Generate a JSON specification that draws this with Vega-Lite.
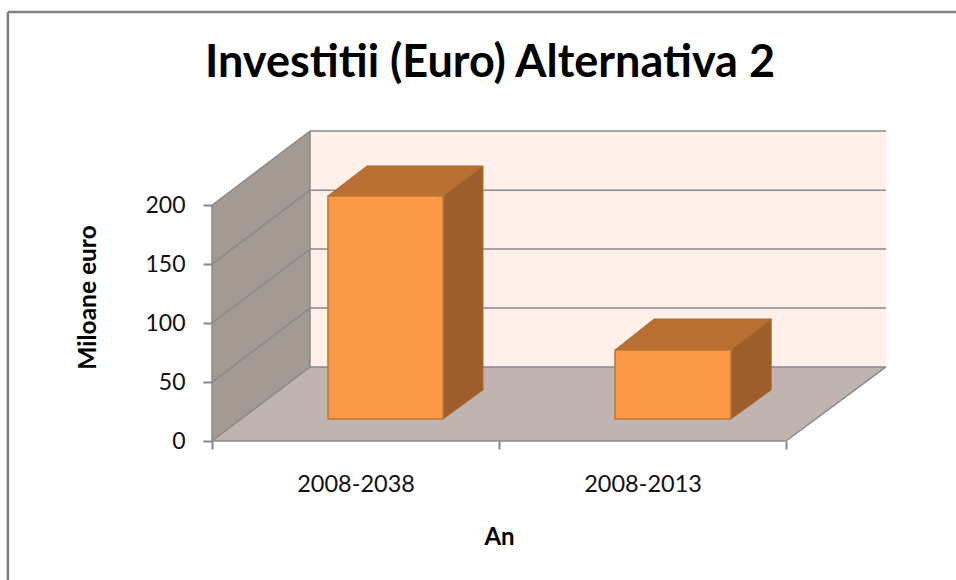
{
"$schema":"https://vega.github.io/schema/vega-lite/v6.json",
"width":674,"height":310,
"autosize":{"type":"none"},
"padding":{"left":212,"top":131,"right":70,"bottom":139},
"background":"white",
"config":{"view":{"stroke":null}},
"title":{"text":"Investitii (Euro) Alternativa 2","anchor":"middle","frame":"group","dx":-59,"offset":-111,"baseline":"alphabetic","font":"Lato","fontSize":45,"fontWeight":"bold","color":"#000000"},
"datasets":{
"backWall":[{"part":"back","x":0.3415,"x2":2.348,"y":62.8,"y2":263}],
"leftWall":[{"part":"wall","x":0,"y":0,"y2":200},{"part":"wall","x":0.3415,"y":62.8,"y2":263}],
"floor":[{"part":"floor","y":0,"x":0,"x2":2},{"part":"floor","y":62.8,"x":0.3415,"x2":2.348}],
"lines":[
{"x":0,"y":50,"x2":0.3415,"y2":112.8},{"x":0,"y":100,"x2":0.3415,"y2":162.8},{"x":0,"y":150,"x2":0.3415,"y2":212.8},{"x":0,"y":200,"x2":0.3415,"y2":263},
{"x":0.3415,"y":112.8,"x2":2.348,"y2":112.8},{"x":0.3415,"y":162.8,"x2":2.348,"y2":162.8},{"x":0.3415,"y":212.8,"x2":2.348,"y2":212.8},{"x":0.3415,"y":263,"x2":2.348,"y2":263},
{"x":0.3415,"y":62.8,"x2":2.348,"y2":62.8},{"x":0,"y":0,"x2":0.3415,"y2":62.8},{"x":2,"y":0,"x2":2.348,"y2":62.8},
{"x":0,"y":0,"x2":2,"y2":0},{"x":0,"y":0,"x2":0,"y2":200},{"x":0.3415,"y":62.8,"x2":0.3415,"y2":263}
],
"sides":[
{"category":"2008-2038","part":"side","x":0.805,"y":18.7,"y2":207.9},{"category":"2008-2038","part":"side","x":0.944,"y":43.3,"y2":233.3},
{"category":"2008-2013","part":"side","x":1.808,"y":18.7,"y2":77.2},{"category":"2008-2013","part":"side","x":1.948,"y":43.3,"y2":103.5}
],
"tops":[
{"category":"2008-2038","part":"top","y":207.9,"x":0.404,"x2":0.805},{"category":"2008-2038","part":"top","y":233.3,"x":0.54,"x2":0.944},
{"category":"2008-2013","part":"top","y":77.2,"x":1.404,"x2":1.808},{"category":"2008-2013","part":"top","y":103.5,"x":1.54,"x2":1.948}
],
"fronts":[
{"category":"2008-2038","part":"front","x":0.404,"x2":0.805,"y":18.7,"y2":207.9},
{"category":"2008-2013","part":"front","x":1.404,"x2":1.808,"y":18.7,"y2":77.2}
],
"frame":[{"x":-0.711,"x2":-0.711,"y":-118,"y2":364},{"x":-0.711,"x2":2.6,"y":364,"y2":364}]
},
"encoding":{
"x":{"field":"x","type":"quantitative","scale":{"domain":[0,2.348],"nice":false,"zero":false},
"axis":{"title":"An","values":[0,0.5,1,1.5,2],"grid":false,"domain":false,"labelExpr":"datum.value==0.5?'2008-2038':datum.value==1.5?'2008-2013':''","labelOverlap":false,"labelFlush":false,"labelFont":"Lato","labelFontSize":23.5,"labelColor":"#111111","labelPadding":23,"tickColor":"#868686","tickWidth":2,"tickSize":8,"tickOpacity":{"condition":{"test":"datum.value==0.5||datum.value==1.5","value":0},"value":1},"titleFont":"Lato","titleFontSize":24,"titleFontWeight":"bold","titleColor":"#000000","titleX":287,"titleY":96,"titleBaseline":"middle","titleAlign":"center"}},
"y":{"field":"y","type":"quantitative","scale":{"domain":[0,263],"nice":false,"zero":false},
"axis":{"title":"Miloane euro","values":[0,50,100,150,200],"grid":false,"domain":false,"labelFont":"Lato","labelFontSize":23,"labelColor":"#111111","labelPadding":18,"tickColor":"#868686","tickWidth":2,"tickSize":9,"titleFont":"Lato","titleFontSize":24.5,"titleFontWeight":"bold","titleColor":"#000000","titleX":-124,"titleY":166,"titleAngle":270,"titleBaseline":"middle","titleAlign":"center"}}
},
"layer":[
{"data":{"name":"backWall"},"mark":{"type":"rect"},"encoding":{"x2":{"field":"x2"},"y2":{"field":"y2"},"fill":{"field":"part","type":"nominal","legend":null,"scale":{"domain":["back","wall","floor","front","side","top"],"range":["#FFF0E9","#A39A93","#BFB4AF","#FB9946","#9C5F2C","#B96F32"]}}}},
{"data":{"name":"leftWall"},"mark":{"type":"area","orient":"vertical"},"encoding":{"y2":{"field":"y2"},"fill":{"field":"part","type":"nominal","legend":null}}},
{"data":{"name":"floor"},"mark":{"type":"area","orient":"horizontal"},"encoding":{"x2":{"field":"x2"},"fill":{"field":"part","type":"nominal","legend":null}}},
{"data":{"name":"lines"},"mark":{"type":"rule","color":"#8A8A8A","strokeWidth":1.5},"encoding":{"x2":{"field":"x2"},"y2":{"field":"y2"}}},
{"data":{"name":"sides"},"mark":{"type":"area","orient":"vertical","stroke":"#B0692E","strokeWidth":1},"encoding":{"y2":{"field":"y2"},"detail":{"field":"category"},"fill":{"field":"part","type":"nominal","legend":null}}},
{"data":{"name":"tops"},"mark":{"type":"area","orient":"horizontal","stroke":"#B0692E","strokeWidth":1},"encoding":{"x2":{"field":"x2"},"detail":{"field":"category"},"fill":{"field":"part","type":"nominal","legend":null}}},
{"data":{"name":"fronts"},"mark":{"type":"rect","stroke":"#BE7632","strokeWidth":1.5},"encoding":{"x2":{"field":"x2"},"y2":{"field":"y2"},"fill":{"field":"part","type":"nominal","legend":null}}},
{"data":{"name":"frame"},"mark":{"type":"rule","color":"#808080","strokeWidth":2.5},"encoding":{"x2":{"field":"x2"},"y2":{"field":"y2"}}}
]
}
